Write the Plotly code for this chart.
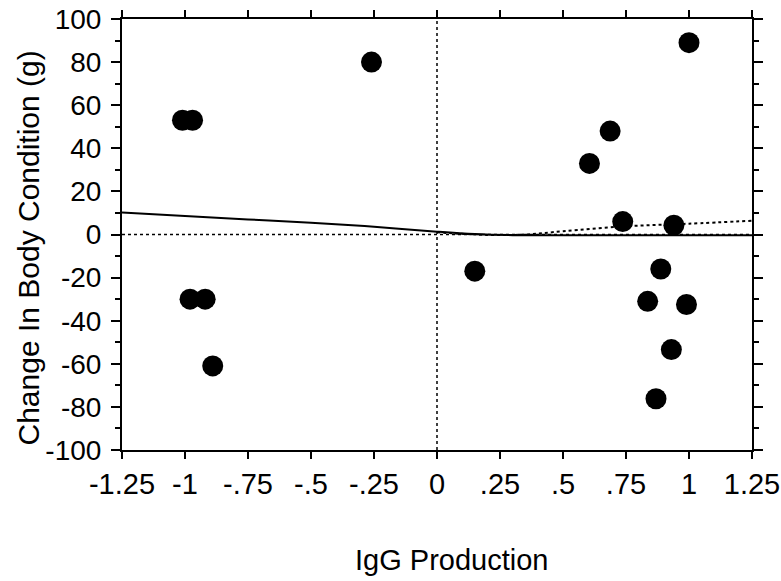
import plotly.graph_objects as go

# Scatter data: IgG production vs change in body condition
igg = [-1.01, -0.97, -0.26, -0.98, -0.92, -0.89, 0.15, 0.605, 0.687, 1.0,
       0.737, 0.94, 0.888, 0.836, 0.99, 0.93, 0.869]
body_change = [53, 53, 80, -30, -30, -61, -17, 33, 48, 89,
               6, 4.3, -16, -31, -32.5, -53.4, -76.2]

# Fitted curves
fit_solid_x = [-1.25, -1.0, -0.75, -0.5, -0.25, 0.0, 0.15, 0.3, 0.5, 0.75, 1.0, 1.25]
fit_solid_y = [10.2, 8.6, 7.0, 5.4, 3.6, 1.3, 0.2, -0.3, -0.3, -0.3, -0.3, -0.4]
fit_dotted_x = [0.0, 0.2, 0.35, 0.5, 0.75, 1.0, 1.25]
fit_dotted_y = [1.0, -0.2, 0.0, 1.5, 3.8, 5.0, 6.4]

x_tickvals = [-1.25, -1.0, -0.75, -0.5, -0.25, 0.0, 0.25, 0.5, 0.75, 1.0, 1.25]
x_ticktext = ["-1.25", "-1", "-.75", "-.5", "-.25", "0", ".25", ".5", ".75", "1", "1.25"]
y_tickvals = [-100, -80, -60, -40, -20, 0, 20, 40, 60, 80, 100]
y_ticktext = ["-100", "-80", "-60", "-40", "-20", "0", "20", "40", "60", "80", "100"]

FONT = "Liberation Sans, Arial, sans-serif"

fig = go.Figure()

fig.add_trace(go.Scatter(
    x=fit_solid_x, y=fit_solid_y, mode="lines",
    line=dict(color="black", width=2, shape="spline"),
    showlegend=False, hoverinfo="skip"))
fig.add_trace(go.Scatter(
    x=fit_dotted_x, y=fit_dotted_y, mode="lines",
    line=dict(color="black", width=2, dash="dot", shape="spline"),
    showlegend=False, hoverinfo="skip"))
fig.add_trace(go.Scatter(
    x=igg, y=body_change, mode="markers",
    marker=dict(color="black", size=21, line=dict(width=0)),
    showlegend=False))

# Dotted reference lines through the origin
fig.add_hline(y=0, line=dict(color="black", width=1.5, dash="dot"))
fig.add_vline(x=0, line=dict(color="black", width=1.5, dash="dot"))

# Axis titles
fig.add_annotation(
    text="IgG Production", xref="paper", yref="paper", x=0.5, y=0,
    xanchor="center", yanchor="middle",
    xshift=14, yshift=-110, showarrow=False,
    font=dict(family=FONT, size=29, color="black"))
fig.add_annotation(
    text="Change In Body Condition (g)", xref="paper", yref="paper", x=0, y=0.5,
    xanchor="center", yanchor="middle",
    xshift=-94, yshift=-14, textangle=-90, showarrow=False,
    font=dict(family=FONT, size=30, color="black"))

fig.update_layout(
    width=781, height=581,
    margin=dict(l=122, r=29, t=19, b=131, autoexpand=False),
    paper_bgcolor="white", plot_bgcolor="white",
    font=dict(family=FONT, size=28, color="black"),
)

fig.update_xaxes(
    range=[-1.25, 1.25], tickvals=x_tickvals, ticktext=x_ticktext,
    showgrid=False, zeroline=False, automargin=False,
    showline=True, linecolor="black", linewidth=2, mirror="ticks",
    ticks="outside", ticklen=7, tickwidth=2, tickcolor="black",
    ticklabelstandoff=0,
    tickfont=dict(family=FONT, size=29),
)
fig.update_yaxes(
    range=[-100, 100], tickvals=y_tickvals, ticktext=y_ticktext,
    showgrid=False, zeroline=False, automargin=False,
    showline=True, linecolor="black", linewidth=2, mirror="ticks",
    ticks="outside", ticklen=9, tickwidth=2, tickcolor="black",
    minor=dict(dtick=10, ticks="outside", ticklen=5, tickwidth=2, tickcolor="black", showgrid=False),
    ticklabelstandoff=4,
    tickfont=dict(family=FONT, size=28),
)

fig.write_html("out.html")
